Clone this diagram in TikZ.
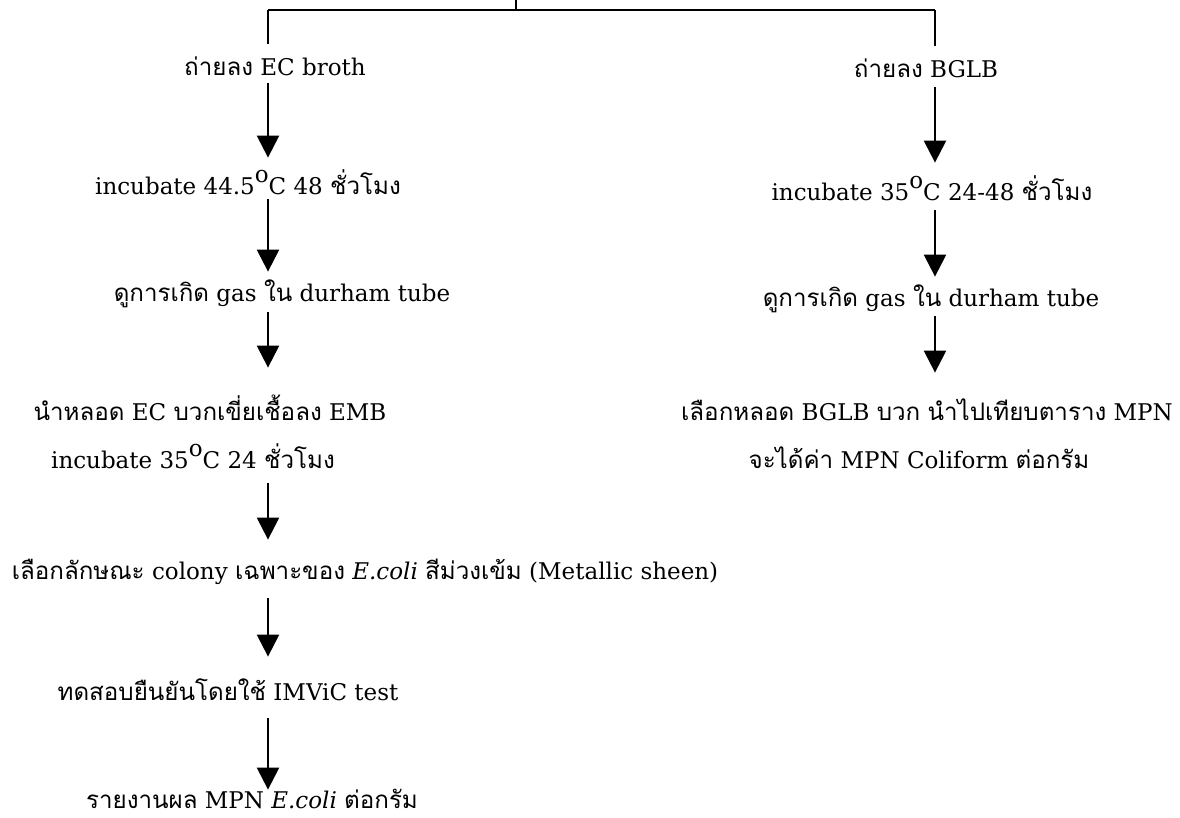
\documentclass[tikz,border=0pt]{standalone}
\usepackage{fontspec}
\setmainfont{DejaVu Serif}
\newfontfamily\thaifont[Script=Thai,Scale=1.05]{Loma}
\usetikzlibrary{arrows.meta}
\newcommand{\thtxt}[1]{{\thaifont #1}}
\newcommand{\degC}{\raisebox{1.05ex}{o}C}
\begin{document}
\begin{tikzpicture}[x=0.5pt,y=-0.5pt,
  txt/.style={inner sep=0pt, text height=12pt, text depth=4pt, font=\fontsize{11.5}{14}\selectfont},
  link/.style={line width=1.2pt},
  arr/.style={line width=1.2pt, -{Triangle[width=11pt,length=11pt]}}]
\useasboundingbox (0,0) rectangle (1180,818);
% coordinates of the top bracket
\coordinate (top) at (516,0);
\coordinate (mid) at (516,10);
\coordinate (hl) at (268,10);
\coordinate (hr) at (935,10);
% left column
\node[txt] (ec)    at (275,68)  {\thtxt{ถ่ายลง} EC broth};
\node[txt] (incL)  at (248,187) {incubate 44.5\degC{} 48 \thtxt{ชั่วโมง}};
\node[txt] (gasL)  at (282,294) {\thtxt{ดูการเกิด} gas \thtxt{ใน} durham tube};
\node[txt] (emb)   at (210,413) {\thtxt{นำหลอด} EC \thtxt{บวกเขี่ยเชื้อลง} EMB};
\node[txt] (inc35) at (193,461) {incubate 35\degC{} 24 \thtxt{ชั่วโมง}};
\node[txt] (col)   at (365,572) {\thtxt{เลือกลักษณะ} colony \thtxt{เฉพาะของ} \textit{E.coli} \thtxt{สีม่วงเข้ม} (Metallic sheen)};
\node[txt] (imv)   at (228,693) {\thtxt{ทดสอบยืนยันโดยใช้} IMViC test};
\node[txt] (rep)   at (252,800) {\thtxt{รายงานผล} MPN \textit{E.coli} \thtxt{ต่อกรัม}};
% right column
\node[txt] (bglb)  at (926,70)  {\thtxt{ถ่ายลง} BGLB};
\node[txt] (incR)  at (932,193) {incubate 35\degC{} 24-48 \thtxt{ชั่วโมง}};
\node[txt] (gasR)  at (931,299) {\thtxt{ดูการเกิด} gas \thtxt{ใน} durham tube};
\node[txt] (sel)   at (927,413) {\thtxt{เลือกหลอด} BGLB \thtxt{บวก} \thtxt{นำไปเทียบตาราง} MPN};
\node[txt] (mpn)   at (919,461) {\thtxt{จะได้ค่า} MPN Coliform \thtxt{ต่อกรัม}};
% bracket
\draw[link] (top) -- (mid);
\draw[link] (hl) -- (hr);
\draw[link, shorten >=4pt] (hl) -- (ec.north -| hl);
\draw[link, shorten >=4pt] (hr) -- (bglb.north -| hr);
% left arrows
\draw[arr, shorten <=-0.5pt, shorten >=6.5pt] (ec.south -| hl) -- (incL.north -| hl);
\draw[arr, shorten <=-2pt, shorten >=3pt] (incL.south -| hl) -- (gasL.north -| hl);
\draw[arr, shorten <=1pt, shorten >=14.5pt] (gasL.south -| hl) -- (emb.north -| hl);
\draw[arr, shorten <=3pt, shorten >=8pt] (inc35.south -| hl) -- (col.north -| hl);
\draw[arr, shorten <=5pt, shorten >=10pt] (col.south -| hl) -- (imv.north -| hl);
\draw[arr, shorten <=4.5pt, shorten >=-3pt] (imv.south -| hl) -- (rep.north -| hl);
% right arrows
\draw[arr, shorten <=0.5pt, shorten >=7pt] (bglb.south -| hr) -- (incR.north -| hr);
\draw[arr, shorten <=0.5pt, shorten >=3pt] (incR.south -| hr) -- (gasR.north -| hr);
\draw[arr, shorten <=0.5pt, shorten >=12pt] (gasR.south -| hr) -- (sel.north -| hr);
\end{tikzpicture}
\end{document}
